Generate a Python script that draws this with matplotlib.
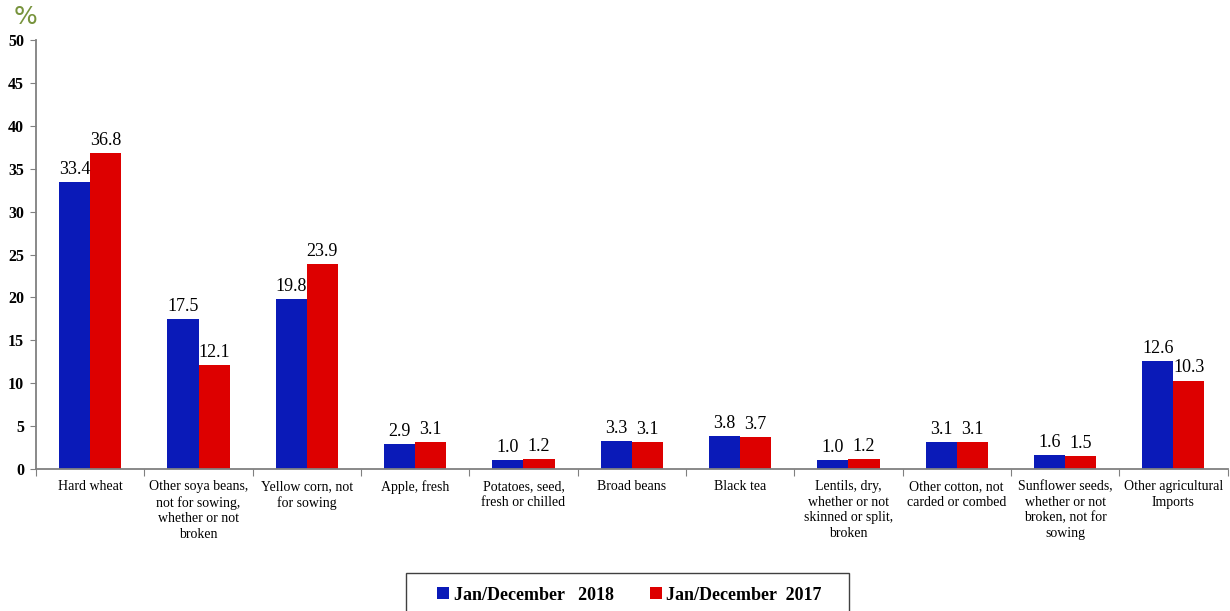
import numpy as np
import matplotlib.pyplot as plt
from matplotlib.patches import Rectangle

categorias = ['Hard wheat',
              'Other soya beans,\nnot for sowing,\nwhether or not\nbroken',
              'Yellow corn, not\nfor sowing',
              'Apple, fresh',
              'Potatoes, seed,\nfresh or chilled',
              'Broad beans',
              'Black tea',
              'Lentils, dry,\nwhether or not\nskinned or split,\nbroken',
              'Other cotton, not\ncarded or combed',
              'Sunflower seeds,\nwhether or not\nbroken, not for\nsowing',
              'Other agricultural\nImports']
v2018 = [33.4, 17.5, 19.8, 2.9, 1.0, 3.3, 3.8, 1.0, 3.1, 1.6, 12.6]
v2017 = [36.8, 12.1, 23.9, 3.1, 1.2, 3.1, 3.7, 1.2, 3.1, 1.5, 10.3]
rotulos = ['Jan/December   2018', 'Jan/December  2017']

plt.rcParams['font.family'] = ['Liberation Serif', 'DejaVu Serif']

fig = plt.figure(figsize=(12.3, 6.11), dpi=100)
ax = fig.add_axes([0.0293, 0.2324, 0.9687, 0.7021])

x = np.arange(len(categorias))
largura = 0.287
azul = '#0A1AB8'
vermelho = '#DD0000'
b1 = ax.bar(x - largura / 2, v2018, width=largura, color=azul, label=rotulos[0])
b2 = ax.bar(x + largura / 2, v2017, width=largura, color=vermelho, label=rotulos[1])

# rótulos de dados
for barras in (b1, b2):
    ax.bar_label(barras, fmt='%.1f', padding=3, fontsize=13)

ax.set_xlim(-0.5, len(categorias) - 0.5)
ax.set_ylim(0, 50)
ax.set_yticks(range(0, 51, 5))
ax.set_yticklabels([str(t) for t in range(0, 51, 5)], fontweight='bold', fontsize=11.5)
ax.set_xticks(np.arange(len(categorias) + 1) - 0.5)
ax.set_xticklabels([])
ax.set_xticks(x, minor=True)
ax.set_xticklabels(categorias, minor=True, fontsize=10, linespacing=1.25, va='top')
ax.tick_params(axis='x', which='minor', length=0, pad=8)
ax.tick_params(axis='x', which='major', length=5, color='#808080', direction='out')
ax.tick_params(axis='y', length=4, color='#808080', direction='out', pad=4.5)

for s in ('top', 'right'):
    ax.spines[s].set_visible(False)
for s in ('left', 'bottom'):
    ax.spines[s].set_color('#808080')
    ax.spines[s].set_linewidth(1.3)

fig.text(0.011, 0.972, '%', color='#77933C', fontsize=18, family='DejaVu Sans', va='center')

# legenda sem moldura + caixa desenhada à parte (mais larga, como no original)
leg = fig.legend(handles=[b1, b2], loc='upper center', bbox_to_anchor=(0.5118, 0.0622),
                 ncol=2, frameon=False, prop={'weight': 'bold', 'size': 13},
                 handlelength=0.65, handleheight=0.65, handletextpad=0.25,
                 columnspacing=2.0, borderpad=0.75, borderaxespad=0)
caixa = Rectangle((406 / 1230, -0.01), 443 / 1230, 0.0722, transform=fig.transFigure,
                  fill=False, edgecolor='#404040', linewidth=1.0)
fig.patches.append(caixa)

fig.savefig('out.png', dpi=100)
